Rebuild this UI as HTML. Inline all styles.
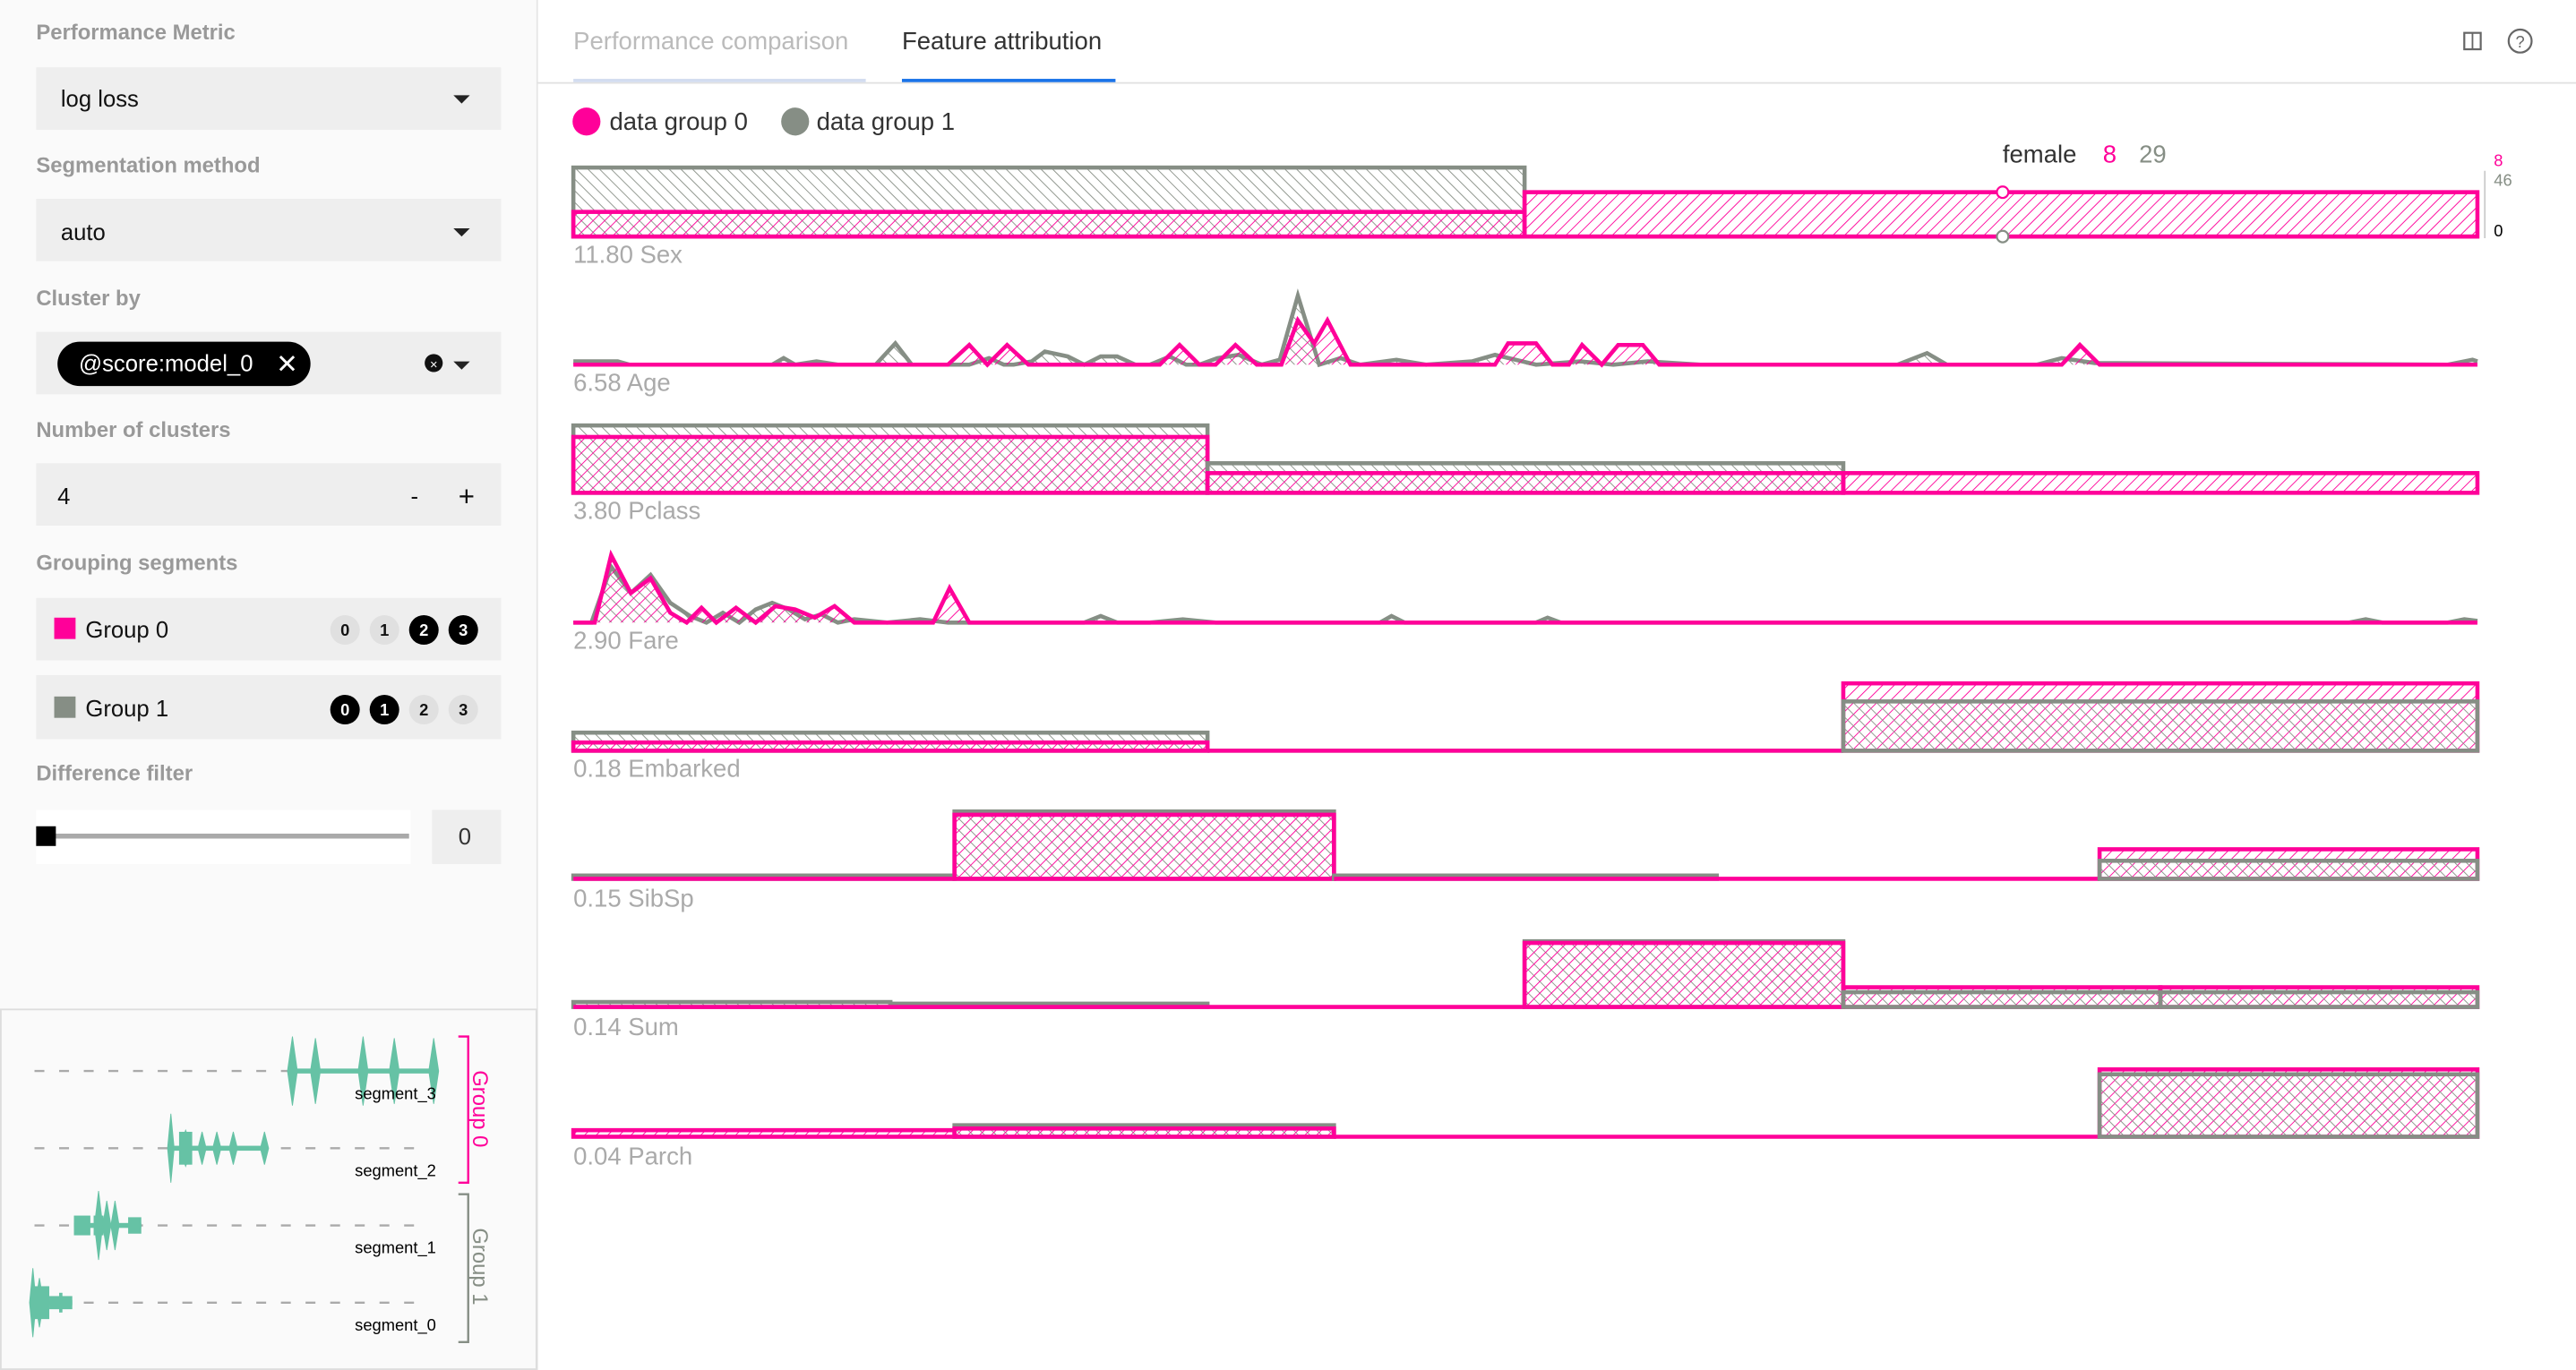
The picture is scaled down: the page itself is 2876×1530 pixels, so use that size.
<!DOCTYPE html>
<html><head><meta charset="utf-8"><style>
html,body{margin:0;padding:0;background:#fff;}
svg{display:block;}
text{font-family:"Liberation Sans",Arial,sans-serif;}
</style></head><body>
<svg id="s" width="2876" height="1530" viewBox="0 0 1568 834" preserveAspectRatio="none" xmlns="http://www.w3.org/2000/svg">
<defs>
<pattern id="hg" width="5" height="5" patternUnits="userSpaceOnUse" patternTransform="rotate(-45)"><line x1="0" y1="0" x2="0" y2="5" stroke="#8a9188" stroke-width="1"/></pattern>
<pattern id="hp" width="5" height="5" patternUnits="userSpaceOnUse" patternTransform="rotate(45)"><line x1="0" y1="0" x2="0" y2="5" stroke="#ff0099" stroke-width="1"/></pattern>
</defs>
<rect x="0" y="0" width="1568" height="834" fill="#fff"/>
<!-- left panel -->
<rect x="0" y="0" width="327" height="834" fill="#fafafa"/>
<line x1="327" y1="0" x2="327" y2="834" stroke="#e6e6e6"/>
<g font-size="13" fill="#999" font-weight="bold">
<text x="22" y="24">Performance Metric</text>
<text x="22" y="105">Segmentation method</text>
<text x="22" y="186">Cluster by</text>
<text x="22" y="266">Number of clusters</text>
<text x="22" y="347">Grouping segments</text>
<text x="22" y="475">Difference filter</text>
</g>
<g fill="#eeeeee">
<rect x="22" y="41" width="283" height="38"/>
<rect x="22" y="121" width="283" height="38"/>
<rect x="22" y="202" width="283" height="38"/>
<rect x="22" y="282" width="283" height="38"/>
<rect x="22" y="364" width="283" height="38"/>
<rect x="22" y="411" width="283" height="39"/>
<rect x="263" y="493" width="42" height="33"/>
</g>
<g font-size="14" fill="#111">
<text x="37" y="65">log loss</text>
<text x="37" y="146">auto</text>
<text x="35" y="307">4</text>
<text x="52" y="388">Group 0</text>
<text x="52" y="436">Group 1</text>
<text x="279" y="514" fill="#333">0</text>
<text x="250" y="307">-</text>
<text x="279" y="308" font-size="17">+</text>
</g>
<polygon points="276,58 286,58 281,63" fill="#222"/>
<polygon points="276,139 286,139 281,144" fill="#222"/>
<polygon points="276,220 286,220 281,225" fill="#222"/>
<circle cx="264" cy="221" r="5.5" fill="#111"/><text x="264" y="224.5" font-size="8" fill="#fff" text-anchor="middle">×</text>
<rect x="35" y="208" width="154" height="27" rx="13.5" fill="#000"/>
<text x="48" y="226" font-size="14" fill="#fff">@score:model_0</text>
<text x="168" y="227" font-size="16" fill="#fff">✕</text>
<rect x="33" y="376" width="13" height="13" fill="#ff0099"/>
<rect x="33" y="424" width="13" height="13" fill="#868e85"/>
<g font-size="10" font-weight="bold" text-anchor="middle">
<circle cx="210" cy="383.5" r="9" fill="#e0e0e0"/><text x="210" y="387" fill="#111">0</text>
<circle cx="234" cy="383.5" r="9" fill="#e0e0e0"/><text x="234" y="387" fill="#111">1</text>
<circle cx="258" cy="383.5" r="9" fill="#000"/><text x="258" y="387" fill="#fff">2</text>
<circle cx="282" cy="383.5" r="9" fill="#000"/><text x="282" y="387" fill="#fff">3</text>
<circle cx="210" cy="432" r="9" fill="#000"/><text x="210" y="435.5" fill="#fff">0</text>
<circle cx="234" cy="432" r="9" fill="#000"/><text x="234" y="435.5" fill="#fff">1</text>
<circle cx="258" cy="432" r="9" fill="#e0e0e0"/><text x="258" y="435.5" fill="#111">2</text>
<circle cx="282" cy="432" r="9" fill="#e0e0e0"/><text x="282" y="435.5" fill="#111">3</text>
</g>
<rect x="22" y="493" width="228" height="33" fill="#fff"/>
<line x1="28" y1="509" x2="249" y2="509" stroke="#aaa" stroke-width="3"/>
<rect x="22" y="503" width="12" height="12" fill="#000"/>
<!-- bottom panel -->
<rect x="0.5" y="614.5" width="326" height="219" fill="#fafafa" stroke="#ddd"/>
<g stroke="#aaa" stroke-width="1.3" stroke-dasharray="6,9">
<line x1="21" y1="652" x2="256" y2="652"/><line x1="21" y1="699" x2="256" y2="699"/>
<line x1="21" y1="746" x2="256" y2="746"/><line x1="21" y1="793" x2="256" y2="793"/>
</g>
<g id="viol" fill="#66c2a5" stroke="#66c2a5"></g>
<g font-size="10" fill="#000">
<text x="216" y="669">segment_3</text><text x="216" y="716">segment_2</text>
<text x="216" y="763">segment_1</text><text x="216" y="810">segment_0</text>
</g>
<polyline points="279,631 285,631 285,720 279,720" fill="none" stroke="#ff0099" stroke-width="1.3"/>
<polyline points="279,727 285,727 285,817 279,817" fill="none" stroke="#868e85" stroke-width="1.3"/>
<text transform="translate(288,675) rotate(90)" font-size="13" fill="#ff0099" text-anchor="middle">Group 0</text>
<text transform="translate(288,771) rotate(90)" font-size="13" fill="#868e85" text-anchor="middle">Group 1</text>
<!-- header -->
<line x1="327" y1="50.5" x2="1568" y2="50.5" stroke="#e0e0e0"/>
<text x="349" y="30" font-size="15" fill="#bbb">Performance comparison</text>
<text x="549" y="30" font-size="15" fill="#333">Feature attribution</text>
<rect x="349" y="48" width="178" height="2" fill="#d3dcf0"/>
<rect x="549" y="48" width="130" height="2" fill="#1a73e8"/>
<rect x="1500" y="20" width="10" height="10" fill="none" stroke="#666" stroke-width="1.2"/><line x1="1505" y1="20" x2="1505" y2="30" stroke="#666"/>
<circle cx="1534" cy="25" r="7" fill="none" stroke="#666" stroke-width="1.2"/><text x="1534" y="29" font-size="10" fill="#666" text-anchor="middle">?</text>
<!-- legend -->
<circle cx="357" cy="74" r="8.5" fill="#ff0099"/><text x="371" y="79" font-size="15" fill="#333">data group 0</text>
<circle cx="484" cy="74" r="8.5" fill="#868e85"/><text x="497" y="79" font-size="15" fill="#333">data group 1</text>
<g id="bars" stroke-width="2.5"></g>
<g font-size="15" fill="#aaa">
<text x="349" y="160">11.80 Sex</text><text x="349" y="238">6.58 Age</text>
<text x="349" y="316">3.80 Pclass</text><text x="349" y="395">2.90 Fare</text>
<text x="349" y="473">0.18 Embarked</text><text x="349" y="552">0.15 SibSp</text>
<text x="349" y="630">0.14 Sum</text><text x="349" y="709">0.04 Parch</text>
</g>
<text x="1219" y="99" font-size="15" fill="#333">female</text>
<text x="1280" y="99" font-size="15" fill="#ff0099">8</text>
<text x="1302" y="99" font-size="15" fill="#868e85">29</text>
<text x="1518" y="101" font-size="10" fill="#ff0099">8</text>
<text x="1518" y="113" font-size="10" fill="#868e85">46</text>
<text x="1518" y="144" font-size="10" fill="#000">0</text>
<line x1="1512.5" y1="104" x2="1512.5" y2="145" stroke="#ccc"/>
</svg>
<script>
var NS="http://www.w3.org/2000/svg";
function el(p,t,a){var e=document.createElementNS(NS,t);for(var k in a)e.setAttribute(k,a[k]);p.appendChild(e);return e;}
var B=document.getElementById("bars");
function bar(x1,x2,top,base,c){el(B,"rect",{x:x1,y:top,width:x2-x1,height:Math.max(base-top,0.01),fill:c=="g"?"url(#hg)":"url(#hp)",stroke:c=="g"?"#868e85":"#ff0099"});}
function flat(x1,x2,y,c){el(B,"line",{x1:x1,y1:y,x2:x2,y2:y,stroke:c=="g"?"#868e85":"#ff0099"});}
// Sex
bar(349,928,102,144,"g");bar(349,928,129,144,"p");flat(928,1508,144,"g");bar(928,1508,117,144,"p");
// Pclass
bar(349,735,259,300,"g");bar(349,735,266,300,"p");bar(735,1122,282,300,"g");bar(735,1122,288,300,"p");bar(1122,1508,288,300,"p");
// Embarked
bar(349,735,446,457,"g");bar(349,735,452,457,"p");flat(735,1122,457,"g");flat(735,1122,457,"p");bar(1122,1508,416,457,"p");bar(1122,1508,427,457,"g");
// SibSp
bar(349,581,533,535,"g");flat(349,581,535,"p");bar(581,812,494,535,"g");bar(581,812,496,535,"p");bar(812,1045,533,535,"g");flat(812,1278,535,"p");bar(1278,1508,517,535,"p");bar(1278,1508,524,535,"g");
// Sum
bar(349,542,610,613,"g");bar(542,735,611,613,"g");flat(349,928,613,"p");bar(928,1122,573,613,"g");bar(928,1122,574,613,"p");bar(1122,1315,601,613,"p");bar(1122,1315,604,613,"g");bar(1315,1508,601,613,"p");bar(1315,1508,604,613,"g");
// Parch
bar(349,581,688,692,"p");bar(581,812,685,692,"g");bar(581,812,687,692,"p");flat(812,1278,692,"p");bar(1278,1508,651,692,"p");bar(1278,1508,654,692,"g");
// line charts
function line(base,pts,c,fill){var s=pts.map(function(p){return p[0]+","+(base-p[1])}).join(" ");
 if(fill)el(B,"polygon",{points:pts[0][0]+","+base+" "+s+" "+pts[pts.length-1][0]+","+base,fill:fill,stroke:"none"});
 el(B,"polyline",{points:s,fill:"none",stroke:c,"stroke-width":2.5,"stroke-linejoin":"miter"});}
var ageG=[[349,2],[376,2],[383,0],[470,0],[477,4],[484,0],[497,2],[510,0],[533,0],[545,13],[555,0],[577,0],[590,0],[602,4],[611,0],[617,0],[628,2],[636,8],[650,5],[660,0],[670,5],[680,5],[691,0],[700,0],[712,5],[722,0],[730,0],[741,4],[754,6],[768,0],[779,3],[790,42],[803,0],[816,4],[828,0],[850,3],[868,0],[896,2],[910,6],[935,0],[962,2],[982,0],[1003,2],[1035,0],[1155,0],[1173,7],[1185,0],[1240,0],[1255,4],[1275,1],[1490,0],[1505,3],[1508,2]];
var ageP=[[349,0],[577,0],[590,12],[601,0],[613,12],[626,0],[706,0],[718,12],[730,0],[740,0],[752,12],[765,0],[780,0],[790,27],[800,13],[808,27],[822,0],[910,0],[918,13],[935,13],[945,0],[955,0],[963,12],[975,0],[985,12],[1000,12],[1010,0],[1255,0],[1266,12],[1278,0],[1508,0]];
line(222,ageG,"#868e85","url(#hg)");line(222,ageP,"#ff0099","url(#hp)");
var fareG=[[349,0],[360,0],[372,34],[384,18],[396,29],[408,12],[420,4],[430,0],[440,6],[450,0],[460,8],[470,12],[480,8],[490,2],[500,5],[510,0],[520,2],[540,0],[560,2],[577,0],[660,0],[670,4],[680,0],[700,0],[720,2],[740,0],[840,0],[847,4],[855,0],[935,0],[942,3],[950,0],[1430,0],[1440,2],[1450,0],[1490,0],[1500,2],[1508,1]];
var fareP=[[349,0],[362,0],[372,41],[384,18],[396,27],[408,6],[418,0],[427,9],[436,0],[448,9],[460,0],[472,10],[484,8],[496,3],[508,10],[520,0],[568,0],[578,21],[590,0],[1508,0]];
line(379,fareG,"#868e85","url(#hg)");line(379,fareP,"#ff0099","url(#hp)");
el(B,"circle",{cx:1219,cy:117,r:3.5,fill:"#fff",stroke:"#ff0099","stroke-width":1.2});
el(B,"circle",{cx:1219,cy:144,r:3.5,fill:"#fff",stroke:"#868e85","stroke-width":1.2});
// violins
var V=document.getElementById("viol");
function sp(x,y,h,w){el(V,"polygon",{points:(x-w)+","+y+" "+x+","+(y-h)+" "+(x+w)+","+y+" "+x+","+(y+h),"stroke-width":0.5});}
function bb(x1,x2,y,h){el(V,"rect",{x:x1,y:y-h,width:x2-x1,height:2*h,stroke:"none"});}
bb(178,264,652,1.5);[[178,21],[192,20],[221,21],[240,20],[264,20]].forEach(function(p){sp(p[0],652,p[1],3);});
bb(104,161,699,1.5);sp(104,699,21,2);bb(109,117,699,10);sp(113,699,11,4);[[123,10],[132,10],[142,10],[161,10]].forEach(function(p){sp(p[0],699,p[1],2.5);});
bb(45,86,746,1.5);bb(45,55,746,6);bb(57,63,746,6);sp(60,746,21,2.5);sp(65,746,15,2.5);sp(70,746,15,2.5);bb(78,86,746,5);
bb(20,44,793,1.5);sp(20,793,21,2);sp(24,793,15,2.5);bb(20,30,793,10);bb(30,44,793,4);bb(36,38,793,6);
</script>
</body></html>
